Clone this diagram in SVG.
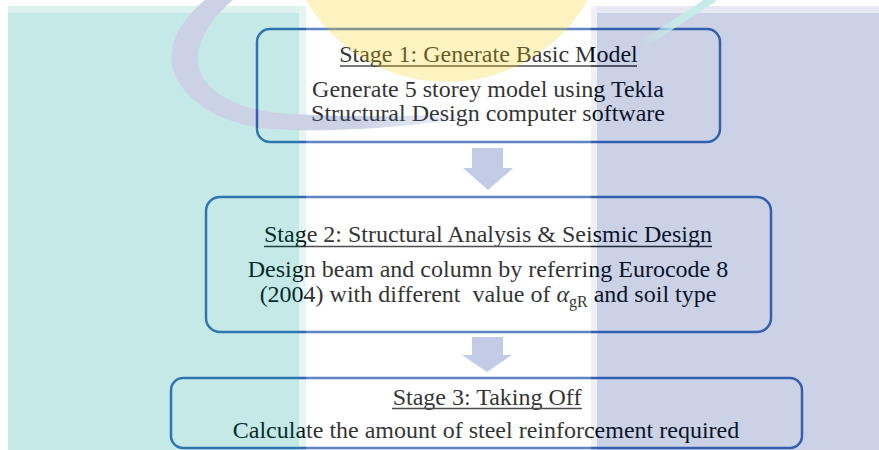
<svg xmlns="http://www.w3.org/2000/svg" width="879" height="450" viewBox="0 0 879 450">
<style>
.box{fill:none;stroke:#3764b4;stroke-width:2.5}
.t{font-family:"Liberation Serif","Times New Roman",serif;font-size:24px;fill:#000;text-anchor:middle}
.ul{stroke:#222;stroke-width:1.6}
.arr{fill:#b5bfe0}
</style>
<defs>
<path id="arcShape" d="M205 0 C180 20 168 45 172 65 C178 95 210 120 260 128 C330 135 420 125 490 116 L490 112 C420 117 330 118 270 112 C225 105 200 85 198 62 C197 40 212 18 233 0 Z"/>
<mask id="tealMask" maskUnits="userSpaceOnUse" x="0" y="0" width="879" height="450">
<rect x="0" y="0" width="879" height="450" fill="#fff"/>
<use href="#arcShape" fill="#000"/>
</mask>
<linearGradient id="arcGrad" gradientUnits="userSpaceOnUse" x1="360" y1="0" x2="490" y2="0">
<stop offset="0" stop-color="rgb(47,75,155)" stop-opacity="0.25"/>
<stop offset="1" stop-color="rgb(47,75,155)" stop-opacity="0"/>
</linearGradient>
<linearGradient id="lineGrad" gradientUnits="userSpaceOnUse" x1="712" y1="0" x2="640" y2="46">
<stop offset="0" stop-color="#c6ebe9" stop-opacity="1"/>
<stop offset="0.6" stop-color="#c6ebe9" stop-opacity="0.8"/>
<stop offset="1" stop-color="#c6ebe9" stop-opacity="0"/>
</linearGradient>
</defs>
<rect x="0" y="0" width="879" height="450" fill="#fff"/>

<g id="connectors">
<polygon class="arr" points="472,148 503,148 503,168 513,168 488,190 463,168 472,168"/>
<polygon class="arr" points="472,337 503,337 503,355 512,355 487,372 462,355 472,355"/>
</g>

<g id="stage1">
<rect class="box" x="257" y="29" width="463" height="113" rx="13"/>
<text class="t" x="488.5" y="62">Stage 1: Generate Basic Model</text>
<line class="ul" x1="340" y1="66" x2="637" y2="66"/>
<text class="t" x="488" y="97">Generate 5 storey model using Tekla</text>
<text class="t" x="488" y="121">Structural Design computer software</text>
</g>

<g id="stage2">
<rect class="box" x="206" y="197" width="565" height="135" rx="14"/>
<text class="t" x="488" y="242">Stage 2: Structural Analysis &amp; Seismic Design</text>
<line class="ul" x1="264" y1="246.5" x2="712" y2="246.5"/>
<text class="t" x="488" y="277">Design beam and column by referring Eurocode 8</text>
<text class="t" x="488" y="302" xml:space="preserve">(2004) with different  value of <tspan font-style="italic">α</tspan><tspan font-size="16" dy="5">gR</tspan><tspan dy="-5"> and soil type</tspan></text>
</g>

<g id="stage3">
<rect class="box" x="171" y="378" width="631" height="70" rx="12"/>
<text class="t" x="487" y="405">Stage 3: Taking Off</text>
<line class="ul" x1="392" y1="408.5" x2="582" y2="408.5"/>
<text class="t" x="486" y="438">Calculate the amount of steel reinforcement required</text>
</g>

<g id="watermark">
<g mask="url(#tealMask)">
<rect x="8" y="13" width="291" height="437" fill="rgb(23,167,159)" fill-opacity="0.25"/>
<rect x="8" y="6" width="291" height="7" fill="rgb(23,167,159)" fill-opacity="0.15"/>
<rect x="299" y="6" width="7" height="444" fill="rgb(23,167,159)" fill-opacity="0.12"/>
</g>
<rect x="306" y="0" width="285" height="450" fill="#fff" fill-opacity="0.2"/>
<rect x="597" y="13" width="282" height="437" fill="rgb(47,75,155)" fill-opacity="0.25"/>
<rect x="597" y="6" width="282" height="7" fill="rgb(47,75,155)" fill-opacity="0.12"/>
<rect x="591" y="6" width="6" height="444" fill="rgb(47,75,155)" fill-opacity="0.08"/>
<circle cx="447" cy="-80" r="162" fill="rgb(247,207,3)" fill-opacity="0.25"/>
<use href="#arcShape" fill="url(#arcGrad)"/>
<line x1="714" y1="-2" x2="640" y2="46" stroke="url(#lineGrad)" stroke-width="8"/>
</g>
</svg>
